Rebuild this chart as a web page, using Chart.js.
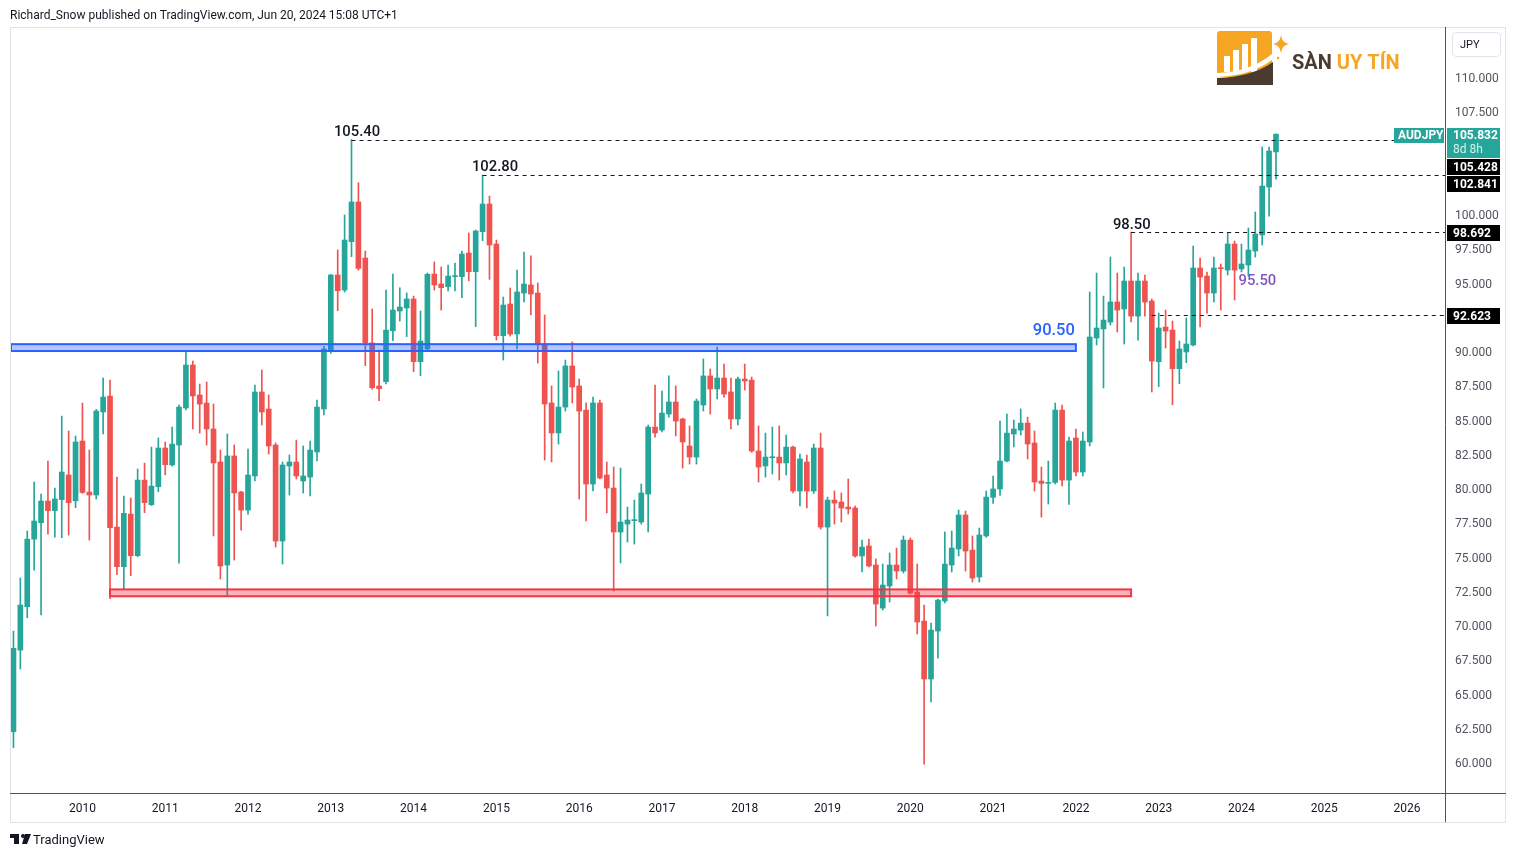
<!DOCTYPE html>
<html lang="en">
<head>
  <meta charset="UTF-8" />
  <title>AUDJPY monthly</title>
  <script src="https://cdn.jsdelivr.net/npm/chart.js"></script>
  <style>
    html, body { margin: 0; padding: 0; background: #fff; }
    canvas { display: block; }
  </style>
</head>
<body>
  <canvas id="audjpy" width="1516" height="857"></canvas>

  <script>
    // monthly candles, first one is March 2009, last one June 2024
    const startYear = 2009;
    const startMonth = 2; // 0 = January
    const slotCount = 208; // axis keeps going to mid 2026

    const open = [
      62.21, 68.17, 71.34, 76.27, 77.47, 79.05, 78.35, 79.15, 80.95, 79.07,
      83.43, 79.71, 79.49, 85.55, 86.71, 77.15, 74.26, 78.10, 75.06, 80.58, 78.78, 80.10,
      82.92, 81.68, 83.14, 85.84, 88.98, 86.79, 86.20, 84.31, 81.90, 74.38, 82.34, 79.71,
      78.39, 80.88, 87.01, 85.77, 83.14, 76.13, 81.61, 81.90, 80.51, 80.80, 82.63, 85.77,
      90.07, 95.55, 94.45, 97.98, 100.88, 96.79, 90.59, 87.45, 87.76, 91.48, 92.92, 93.14,
      93.80, 89.22, 90.15, 95.62, 94.89, 94.70, 95.43, 95.43, 97.15, 95.79, 98.71, 100.73,
      97.81, 91.12, 93.43, 91.24, 94.23, 94.82, 94.23, 90.51, 86.21, 84.02, 85.91, 88.91,
      87.45, 85.69, 80.29, 86.21, 80.95, 80.00, 76.79, 77.37, 77.62, 77.52, 79.56, 84.45,
      84.23, 85.40, 86.28, 85.04, 83.07, 82.26, 86.06, 88.18, 87.23, 88.03, 87.01, 85.04,
      87.96, 87.88, 82.70, 81.61, 82.21, 82.26, 81.83, 82.99, 79.78, 81.90, 79.78, 82.92,
      77.15, 79.12, 78.98, 78.61, 78.54, 75.04, 75.77, 74.38, 71.24, 72.85, 74.38, 73.94,
      76.20, 72.41, 70.29, 66.06, 69.56, 71.75, 74.38, 75.55, 78.03, 75.47, 73.50, 76.50,
      79.32, 79.93, 81.97, 83.94, 84.23, 84.74, 83.29, 80.51, 80.34, 80.41, 85.69, 80.58,
      83.65, 81.17, 83.36, 90.95, 91.61, 92.11, 93.58, 93.07, 95.11, 92.55, 95.11, 93.65,
      89.22, 91.75, 91.53, 88.71, 89.93, 90.44, 96.06, 95.47, 94.23, 96.06, 95.91, 97.81,
      95.99, 96.28, 97.30, 98.47, 101.97, 104.53
    ];
    const high = [
      69.56, 73.43, 76.86, 80.44, 79.56, 81.97, 80.00, 85.25, 84.16, 83.80,
      86.20, 82.77, 85.74, 88.03, 87.88, 80.80, 79.42, 79.27, 81.39, 81.82, 82.99, 83.65,
      83.36, 84.45, 86.06, 90.00, 89.27, 87.59, 87.74, 86.13, 82.77, 83.94, 83.14, 79.75,
      82.85, 87.52, 88.61, 86.79, 83.29, 81.90, 82.41, 83.50, 83.07, 83.43, 86.42, 90.35,
      95.60, 97.37, 99.93, 105.43, 102.29, 97.30, 93.07, 90.07, 94.45, 95.62, 94.62, 94.24,
      94.01, 92.92, 95.69, 96.50, 96.13, 96.28, 96.42, 97.30, 98.61, 98.83, 102.84, 101.31,
      98.10, 93.94, 94.60, 95.91, 97.23, 96.94, 94.96, 92.63, 87.45, 88.54, 89.34, 90.66,
      87.96, 86.21, 86.64, 86.42, 81.90, 81.53, 81.46, 78.61, 79.12, 80.29, 84.60, 87.52,
      87.08, 88.18, 87.45, 85.10, 84.53, 86.50, 89.42, 88.69, 90.29, 89.05, 88.03, 88.10,
      89.05, 88.10, 84.53, 84.01, 84.45, 84.53, 83.87, 83.07, 82.48, 82.41, 83.21, 84.01,
      79.34, 79.78, 79.64, 80.66, 78.69, 76.20, 76.28, 74.82, 74.45, 75.26, 75.62, 76.50,
      76.35, 74.45, 71.46, 70.15, 71.90, 76.79, 76.86, 78.39, 78.32, 76.50, 77.08, 79.78,
      80.88, 84.89, 85.40, 84.96, 85.77, 85.18, 84.16, 81.53, 81.97, 86.20, 86.06, 83.72,
      84.31, 84.09, 94.31, 95.69, 94.01, 96.86, 95.69, 96.13, 98.69, 95.69, 95.55, 93.80,
      92.77, 92.99, 92.19, 90.73, 92.41, 97.66, 96.79, 95.77, 96.86, 96.35, 98.61, 98.03,
      97.81, 98.98, 100.15, 104.89, 104.89, 105.84
    ];
    const low = [
      61.04, 66.79, 70.53, 74.01, 70.73, 76.64, 76.42, 76.37, 76.57, 78.56,
      79.61, 76.20, 79.20, 83.94, 71.92, 73.67, 72.63, 73.60, 74.99, 78.20, 78.73, 79.73,
      80.97, 81.60, 74.52, 85.70, 84.31, 84.01, 83.14, 76.50, 73.36, 72.10, 74.74, 76.93,
      78.10, 80.51, 84.60, 82.48, 75.69, 74.45, 79.49, 80.66, 79.64, 79.42, 81.97, 85.33,
      89.83, 92.94, 94.30, 96.89, 95.90, 88.93, 87.20, 86.38, 87.60, 90.75, 92.19, 91.05,
      88.49, 88.20, 90.00, 94.45, 92.99, 94.38, 94.38, 93.89, 95.13, 91.78, 98.05, 95.23,
      90.80, 89.34, 91.09, 90.15, 93.58, 92.63, 89.12, 82.04, 81.90, 83.21, 85.62, 86.21,
      79.20, 77.59, 79.78, 80.66, 78.18, 72.48, 74.53, 76.06, 75.91, 77.37, 76.79, 83.72,
      84.09, 85.18, 83.80, 81.46, 81.75, 81.75, 85.62, 85.40, 86.50, 86.64, 84.31, 84.60,
      87.15, 82.60, 80.44, 80.80, 81.02, 80.58, 80.95, 79.64, 78.69, 78.54, 79.60, 77.00,
      70.66, 77.37, 77.52, 78.10, 74.95, 73.87, 74.25, 69.93, 71.09, 71.68, 73.36, 73.80,
      72.25, 69.34, 59.85, 64.38, 67.59, 71.61, 73.87, 75.04, 73.94, 73.14, 73.14, 76.40,
      78.88, 79.46, 81.90, 83.00, 83.87, 82.12, 79.78, 77.88, 78.83, 80.30, 80.15, 78.81,
      80.88, 80.88, 83.07, 90.44, 87.30, 91.90, 91.39, 90.51, 92.12, 90.80, 92.55, 87.01,
      87.40, 90.22, 86.08, 87.61, 89.15, 90.37, 91.75, 92.77, 93.58, 92.99, 95.55, 93.72,
      95.77, 95.47, 96.86, 97.74, 99.85, 102.55
    ];
    const close = [
      68.30, 71.46, 76.27, 77.59, 79.05, 78.35, 79.20, 81.17, 78.93, 83.36,
      79.68, 79.49, 85.62, 86.64, 77.10, 74.26, 78.15, 75.06, 80.58, 78.93, 80.14, 82.92,
      81.70, 83.21, 85.91, 88.98, 86.72, 86.13, 84.31, 81.83, 74.31, 82.34, 79.64, 78.39,
      80.95, 87.01, 85.55, 83.07, 76.13, 81.68, 81.90, 80.88, 80.88, 82.77, 85.91, 90.15,
      95.55, 94.40, 98.10, 100.88, 96.03, 90.61, 87.32, 87.25, 91.53, 92.99, 93.21, 93.80,
      89.22, 90.73, 95.60, 94.82, 94.62, 95.47, 95.47, 97.08, 95.79, 98.76, 100.73, 97.74,
      91.12, 93.36, 91.24, 94.31, 94.89, 94.16, 90.46, 86.13, 84.02, 85.91, 88.91, 87.37,
      85.62, 80.29, 86.21, 80.73, 80.00, 76.79, 77.52, 77.66, 77.66, 79.64, 84.45, 84.02,
      85.47, 86.28, 84.89, 83.36, 82.26, 86.35, 88.18, 87.23, 88.03, 86.86, 85.04, 87.96,
      87.81, 82.70, 81.53, 82.26, 82.26, 81.83, 82.99, 79.78, 82.12, 79.78, 82.92, 77.15,
      79.12, 78.90, 78.54, 78.47, 75.04, 75.69, 74.31, 71.53, 72.92, 74.38, 73.94, 76.20,
      72.33, 70.22, 66.06, 69.63, 71.82, 74.45, 75.62, 78.03, 75.40, 73.43, 76.57, 79.34,
      79.93, 81.97, 84.01, 84.31, 84.74, 83.21, 80.44, 80.34, 80.41, 85.69, 80.58, 83.43,
      81.17, 83.43, 91.02, 91.68, 92.26, 93.58, 92.99, 95.11, 92.55, 95.11, 93.58, 89.27,
      91.68, 91.46, 88.71, 90.15, 90.51, 96.06, 95.40, 94.23, 96.06, 96.01, 97.81, 95.91,
      96.35, 97.37, 98.54, 102.04, 104.60, 105.83
    ];

    const yTicks = [60, 62.5, 65, 67.5, 70, 72.5, 75, 77.5, 80, 82.5, 85, 87.5,
      90, 92.5, 95, 97.5, 100, 102.5, 105, 107.5, 110];

    // horizontal levels drawn by the author (value, month index where the line starts)
    const levelValues = [105.428, 102.841, 98.692, 92.623];
    const levelStart = [49, 68, 162, 165];
    const levelTags = ['105.428', '102.841', '98.692', '92.623'];

    // zones: [low, high] and month range
    const blueZone = [90.0, 90.5], blueZoneEnd = 154;
    const redZone = [72.1, 72.6], redZoneFrom = 14, redZoneTo = 162;

    // text notes (text, month index, price)
    const noteText = ['105.40', '102.80', '98.50', '90.50', '95.50'];
    const noteIdx = [49.8, 69.8, 162.1, 150.8, 180.3];
    const noteVal = [106.0, 103.38, 99.16, 91.50, 95.08];
    const noteColor = ['#131722', '#131722', '#131722', '#2962ff', '#7e57c2'];

    const lastPrice = 105.832;

    // month labels for the category axis
    const months = [];
    for (let i = 0; i < slotCount; i++) {
      const m = startMonth + i;
      months.push((startYear + Math.floor(m / 12)) + '-' + String(m % 12 + 1).padStart(2, '0'));
    }

    const up = '#26a69a', down = '#ef5350';
    const colors = open.map((o, i) => close[i] >= o ? up : down);
    const bodies = open.map((o, i) => [o, close[i]]);
    const wicks = low.map((l, i) => [l, high[i]]);

    const FONT = 'Roboto, "Liberation Sans", sans-serif';

    function tag(ctx, x, y, w, h, bg, text, fg) {
      ctx.fillStyle = bg;
      ctx.fillRect(x, y, w, h);
      ctx.fillStyle = fg;
      ctx.font = 'bold 12px ' + FONT;
      ctx.textAlign = 'left';
      ctx.textBaseline = 'middle';
      ctx.fillText(text, x + 6, y + h / 2 + 0.5);
    }

    const overlay = {
      id: 'overlay',
      afterDatasetsDraw(chart) {
        const { ctx, chartArea: a, scales: { x, y } } = chart;
        ctx.save();

        // blue zone
        let top = y.getPixelForValue(blueZone[1]), bot = y.getPixelForValue(blueZone[0]);
        let right = x.getPixelForValue(blueZoneEnd);
        ctx.fillStyle = 'rgba(41, 98, 255, 0.35)';
        ctx.fillRect(a.left, top, right - a.left, bot - top);
        ctx.strokeStyle = '#2962ff';
        ctx.lineWidth = 2;
        ctx.strokeRect(a.left + 1, top, right - a.left - 1, bot - top);

        // red zone
        top = y.getPixelForValue(redZone[1]);
        bot = y.getPixelForValue(redZone[0]);
        const left = x.getPixelForValue(redZoneFrom);
        right = x.getPixelForValue(redZoneTo);
        ctx.fillStyle = 'rgba(242, 54, 69, 0.38)';
        ctx.fillRect(left, top, right - left, bot - top);
        ctx.strokeStyle = '#f23645';
        ctx.strokeRect(left, top, right - left, bot - top);

        // dashed levels
        ctx.strokeStyle = '#131722';
        ctx.lineWidth = 1;
        ctx.setLineDash([4, 4]);
        levelValues.forEach((v, i) => {
          const py = Math.round(y.getPixelForValue(v)) + 0.5;
          ctx.beginPath();
          ctx.moveTo(x.getPixelForValue(levelStart[i]), py);
          ctx.lineTo(a.right, py);
          ctx.stroke();
        });
        ctx.setLineDash([]);

        // notes
        ctx.textAlign = 'center';
        ctx.textBaseline = 'middle';
        noteText.forEach((t, i) => {
          ctx.fillStyle = noteColor[i];
          ctx.font = (i === 3 ? '500 16.5px ' : '500 14.8px ') + FONT;
          ctx.fillText(t, x.getPixelForValue(noteIdx[i]), y.getPixelForValue(noteVal[i]));
        });
        ctx.restore();
      },
      afterDraw(chart) {
        const { ctx, chartArea: a, scales: { y } } = chart;
        ctx.save();

        // frame and axis lines
        ctx.strokeStyle = '#e0e3eb';
        ctx.lineWidth = 1;
        ctx.strokeRect(10.5, a.top + 0.5, 1495, 795);
        ctx.strokeStyle = '#50535e';
        ctx.beginPath();
        ctx.moveTo(a.left, a.bottom + 0.5);
        ctx.lineTo(1506, a.bottom + 0.5);
        ctx.moveTo(a.right + 0.5, a.top);
        ctx.lineTo(a.right + 0.5, 822);
        ctx.stroke();

        // currency box
        ctx.strokeStyle = '#e0e3eb';
        ctx.beginPath();
        ctx.roundRect(1452.5, 32.5, 48, 24, 4);
        ctx.stroke();
        ctx.fillStyle = '#131722';
        ctx.font = '11px ' + FONT;
        ctx.textAlign = 'left';
        ctx.textBaseline = 'middle';
        ctx.fillText('JPY', 1460, 45);

        // last price tags
        const py = Math.round(y.getPixelForValue(lastPrice)) + 1;
        ctx.fillStyle = up;
        ctx.fillRect(a.right + 2, py - 7, 53, 30);
        ctx.fillRect(1394, py - 7, 50, 15);
        ctx.fillStyle = '#fff';
        ctx.font = 'bold 12px ' + FONT;
        ctx.fillText('AUDJPY', 1398, py + 1);
        ctx.fillText(lastPrice.toFixed(3), a.right + 8, py + 1);
        ctx.fillStyle = '#d7f1ee';
        ctx.font = '12px ' + FONT;
        ctx.fillText('8d 8h', a.right + 8, py + 15);

        // level tags on the price axis; the two upper ones get stacked under the last price
        let stackY = py + 24;
        levelValues.forEach((v, i) => {
          let ty = Math.round(y.getPixelForValue(v)) - 7;
          if (ty < stackY) { ty = stackY; }
          tag(ctx, a.right + 2, ty, 53, 16, '#000', levelTags[i], '#fff');
          stackY = ty + 17;
        });

        // header
        ctx.fillStyle = '#131722';
        ctx.font = '12px ' + FONT;
        ctx.textAlign = 'left';
        ctx.textBaseline = 'alphabetic';
        ctx.fillText('Richard_Snow published on TradingView.com, Jun 20, 2024 15:08 UTC+1', 10, 19);

        // footer logo
        ctx.fillStyle = '#131722';
        ctx.fillRect(10, 834, 9, 4);
        ctx.fillRect(14, 834, 5, 10);
        ctx.beginPath();
        ctx.arc(23, 836, 2, 0, Math.PI * 2);
        ctx.fill();
        ctx.beginPath();
        ctx.moveTo(25, 834);
        ctx.lineTo(31, 834);
        ctx.lineTo(27, 844);
        ctx.lineTo(22, 844);
        ctx.closePath();
        ctx.fill();
        ctx.font = '13px ' + FONT;
        ctx.fillText('TradingView', 33, 844);

        // watermark logo
        ctx.fillStyle = '#f6a623';
        ctx.beginPath();
        ctx.roundRect(1217, 31, 55, 46, 3);
        ctx.fill();
        ctx.fillStyle = '#fff';
        [[1224, 56], [1233, 50], [1242, 44], [1251, 38]].forEach(([bx, by]) => {
          ctx.fillRect(bx, by, 6, 72 - by);
        });
        ctx.fillStyle = '#fff';
        ctx.beginPath();
        ctx.moveTo(1217, 73);
        ctx.quadraticCurveTo(1250, 72, 1272, 54);
        ctx.lineTo(1272, 60);
        ctx.quadraticCurveTo(1250, 76, 1217, 77);
        ctx.closePath();
        ctx.fill();
        ctx.fillStyle = '#4b3a2e';
        ctx.beginPath();
        ctx.moveTo(1217, 78);
        ctx.quadraticCurveTo(1252, 77, 1273, 62);
        ctx.lineTo(1273, 85);
        ctx.lineTo(1217, 85);
        ctx.closePath();
        ctx.fill();
        // sparkle
        ctx.fillStyle = '#f6a623';
        ctx.beginPath();
        const sx = 1281, sy = 44;
        ctx.moveTo(sx, sy - 9);
        ctx.quadraticCurveTo(sx + 1, sy - 1, sx + 8, sy);
        ctx.quadraticCurveTo(sx + 1, sy + 1, sx, sy + 9);
        ctx.quadraticCurveTo(sx - 1, sy + 1, sx - 8, sy);
        ctx.quadraticCurveTo(sx - 1, sy - 1, sx, sy - 9);
        ctx.fill();
        ctx.beginPath();
        ctx.arc(1278, 58, 1.3, 0, Math.PI * 2);
        ctx.fill();
        ctx.font = 'bold 20px ' + FONT;
        ctx.fillStyle = '#4b3a2e';
        ctx.fillText('SÀN', 1292, 69);
        ctx.fillStyle = '#f6a623';
        ctx.fillText('UY TÍN', 1292 + ctx.measureText('SÀN ').width, 69);

        ctx.restore();
      }
    };

    const chart = new Chart(document.getElementById('audjpy'), {
      type: 'bar',
      data: {
        labels: months,
        datasets: [
          {
            label: 'wick',
            data: wicks,
            backgroundColor: colors,
            barThickness: 1,
            grouped: false,
            order: 2
          },
          {
            label: 'body',
            data: bodies,
            backgroundColor: colors,
            barThickness: 5,
            minBarLength: 1,
            grouped: false,
            order: 1
          }
        ]
      },
      options: {
        responsive: false,
        animation: false,
        devicePixelRatio: 1,
        layout: { padding: { left: 10, right: 10, top: 27, bottom: 35 } },
        plugins: { legend: { display: false }, tooltip: { enabled: false } },
        scales: {
          x: {
            offset: true,
            grid: { display: false, drawTicks: false },
            border: { display: false },
            afterFit: s => { s.height = 29; },
            ticks: {
              autoSkip: false,
              maxRotation: 0,
              minRotation: 0,
              padding: 9,
              color: '#131722',
              font: { size: 12, family: FONT },
              callback: (v, i) => {
                const m = startMonth + i;
                return m % 12 === 0 ? String(startYear + m / 12) : '';
              }
            }
          },
          y: {
            position: 'right',
            min: 57.74,
            max: 113.65,
            grid: { display: false, drawTicks: false },
            border: { display: false },
            afterFit: s => { s.width = 61; },
            afterBuildTicks: s => { s.ticks = yTicks.map(v => ({ value: v })); },
            ticks: {
              padding: 10,
              labelOffset: 2,
              color: '#50535e',
              font: { size: 12, family: FONT },
              callback: v => Number(v).toFixed(3)
            }
          }
        }
      },
      plugins: [overlay]
    });
  </script>
</body>
</html>
